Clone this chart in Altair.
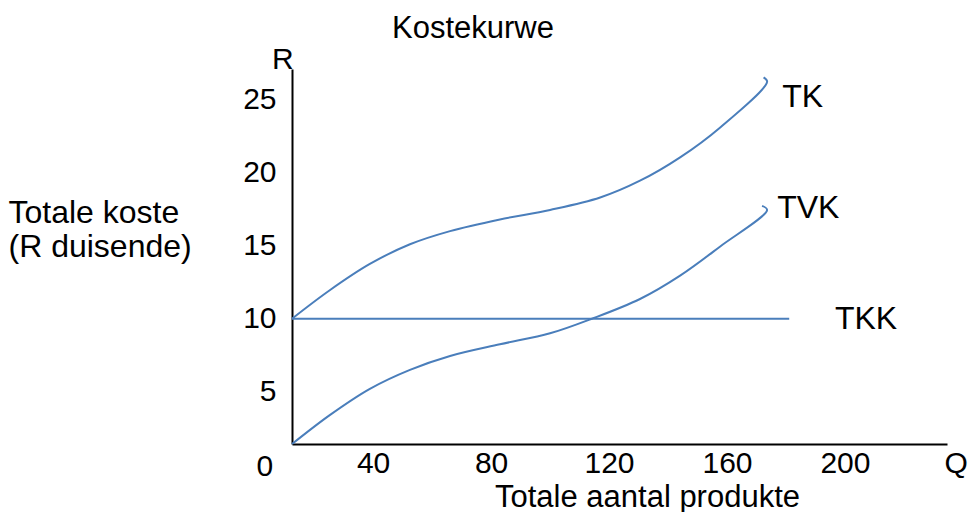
import altair as alt
import pandas as pd

# Curve readings (Q, R thousand)
q_tk = [12.5, 25.3, 38.9, 52.5, 66.1, 83.0, 100.0, 117.0, 130.5, 144.1, 157.7, 173.6, 172.4]
r_tk = [10.0, 11.95, 13.75, 15.1, 16.0, 16.8, 17.45, 18.3, 19.45, 21.05, 23.1, 26.23, 26.53]
q_tvk = [12.5, 25.3, 38.9, 52.5, 66.1, 83.0, 100.0, 114.2, 130.5, 144.1, 157.7, 173.6, 171.9]
r_tvk = [1.42, 3.4, 5.2, 6.5, 7.45, 8.25, 9.0, 10.0, 11.35, 12.95, 14.95, 17.45, 17.73]
q_tkk = [12.5, 181.1]
r_tkk = [10.0, 10.0]

x_ticks = [40, 80, 120, 160, 200]
y_ticks = [5, 10, 15, 20, 25]
x_domain = [12.5, 234.6]
y_domain = [1.42, 27.1]

series_names = ["TK", "TVK", "TKK"]
label_q = [178.7, 177.0, 196.6]
label_r = [25.2, 17.6, 10.0]

corner_text = ["0", "Q", "R"]
corner_q = [3.3, 237.7, 9.4]
corner_r = [-0.15, 0.05, 27.7]

FONT = "Liberation Sans"
FS = 32      # word texts
FS_NUM = 30  # tick labels and axis letters
BLUE = "#4a7ebb"

rows = []
for name, qs, rs in [("TK", q_tk, r_tk), ("TVK", q_tvk, r_tvk), ("TKK", q_tkk, r_tkk)]:
    for i, (q, r) in enumerate(zip(qs, rs)):
        rows.append({"series": name, "i": i, "Q": q, "R": r})
curves = pd.DataFrame(rows)

labels = pd.DataFrame({"text": series_names, "Q": label_q, "R": label_r})
corners = pd.DataFrame({"text": corner_text, "Q": corner_q, "R": corner_r})

xscale = alt.Scale(domain=x_domain, nice=False, zero=False)
yscale = alt.Scale(domain=y_domain, nice=False, zero=False)

xaxis = alt.Axis(
    values=x_ticks, ticks=False, tickSize=0, grid=False,
    domainColor="black", domainWidth=2,
    labelFont=FONT, labelFontSize=FS_NUM, labelColor="black", labelPadding=4,
    title="Totale aantal produkte", titleFont=FONT, titleFontSize=31,
    titleFontWeight="normal", titleColor="black",
    titleX=355, titleY=62, titleAlign="center", titleBaseline="alphabetic",
)
yaxis = alt.Axis(
    values=y_ticks, ticks=False, tickSize=0, grid=False,
    domainColor="black", domainWidth=2,
    labelFont=FONT, labelFontSize=FS_NUM, labelColor="black", labelPadding=16,
    title=["Totale koste", "(R duisende)"], titleFont=FONT, titleFontSize=FS,
    titleFontWeight="normal", titleColor="black", titleAngle=0,
    titleX=-284, titleY=153, titleAlign="left", titleBaseline="alphabetic",
    titleLineHeight=34,
)

lines = alt.Chart(curves).mark_line(
    interpolate="catmull-rom", strokeWidth=2, color=BLUE
).encode(
    x=alt.X("Q:Q", scale=xscale, axis=xaxis),
    y=alt.Y("R:Q", scale=yscale, axis=yaxis),
    detail="series:N",
    order="i:Q",
)

series_text = alt.Chart(labels).mark_text(
    align="left", baseline="middle", font=FONT, fontSize=FS, color="black"
).encode(x=alt.X("Q:Q", scale=xscale), y=alt.Y("R:Q", scale=yscale), text="text:N")

corner_marks = alt.Chart(corners).mark_text(
    align="center", baseline="middle", font=FONT, fontSize=FS_NUM, color="black"
).encode(x=alt.X("Q:Q", scale=xscale), y=alt.Y("R:Q", scale=yscale), text="text:N")

chart = alt.layer(lines, series_text, corner_marks).properties(
    width=655, height=375,
    padding={"left": 284, "top": 61, "right": 22, "bottom": 68},
    autosize="none",
    title=alt.TitleParams(
        "Kostekurwe", anchor="start", frame="group", dx=100,
        font=FONT, fontSize=31, fontWeight="normal", color="black",
        baseline="alphabetic", offset=0, dy=24,
    ),
).configure(
    background="white", view=alt.ViewConfig(stroke=None)
)

chart.save("out.html", embed_options={"renderer": "svg", "actions": False})
